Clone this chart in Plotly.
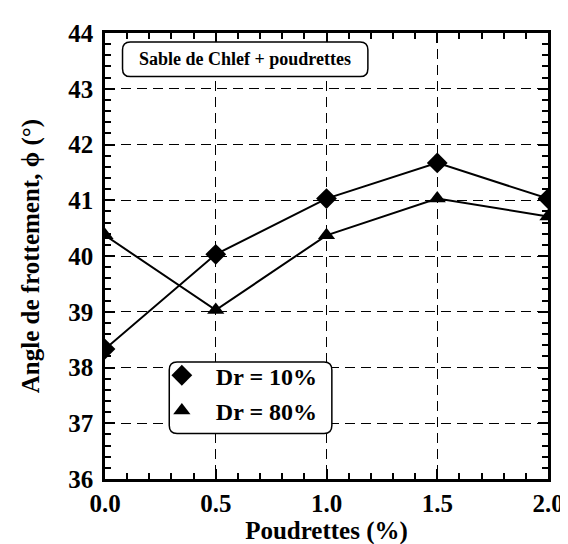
import plotly.graph_objects as go

x_vals = [0.0, 0.5, 1.0, 1.5, 2.0]
dr10 = [38.33, 40.03, 41.03, 41.67, 41.03]
dr80 = [40.37, 39.03, 40.37, 41.03, 40.71]
series_names = ["Dr = 10%", "Dr = 80%"]
x_ticks = [0.0, 0.5, 1.0, 1.5, 2.0]
x_tick_labels = ["0.0", "0.5", "1.0", "1.5", "2.0"]
y_ticks = [36, 37, 38, 39, 40, 41, 42, 43, 44]

FONT = "Liberation Serif, Times New Roman, serif"

fig = go.Figure()
fig.add_trace(go.Scatter(x=x_vals, y=dr10, mode="lines+markers", showlegend=False,
                         line=dict(color="black", width=2),
                         marker=dict(symbol="diamond", size=16, color="black")))
fig.add_trace(go.Scatter(x=x_vals, y=dr80, mode="lines+markers", showlegend=False,
                         line=dict(color="black", width=2),
                         marker=dict(symbol="triangle-up", size=15, color="black")))
# legend entries (markers only)
fig.add_trace(go.Scatter(x=[None], y=[None], mode="markers", name=series_names[0],
                         legendgroup="a",
                         marker=dict(symbol="diamond", size=16, color="black")))
fig.add_trace(go.Scatter(x=[None], y=[None], mode="markers", name=series_names[1],
                         legendgroup="b",
                         marker=dict(symbol="triangle-up", size=15, color="black")))

def rounded_rect(x0, y0, x1, y1, rx, ry):
    return (f"M {x0+rx},{y0} L {x1-rx},{y0} Q {x1},{y0} {x1},{y0+ry} "
            f"L {x1},{y1-ry} Q {x1},{y1} {x1-rx},{y1} L {x0+rx},{y1} "
            f"Q {x0},{y1} {x0},{y1-ry} L {x0},{y0+ry} Q {x0},{y0} {x0+rx},{y0} Z")

W, H = 568, 544
ml, mr, mt, mb = 97, 16, 23, 71
pw, ph = W - ml - mr, H - mt - mb

def px(xp, yp):
    return (xp - ml) / pw, 1 - (yp - mt) / ph

# title box
bx0, by0 = px(115, 32)
bx1, by1 = px(367, 67)
# legend box
lx0, ly0 = px(163, 355)
lx1, ly1 = px(330, 427)
# legend anchor
lgx, lgy = px(141, 346)

rx, ry = 8 / pw, 8 / ph

shapes = [
    dict(type="path", xref="paper", yref="paper",
         path=rounded_rect(bx0, by1, bx1, by0, rx, ry),
         line=dict(color="black", width=1.5), fillcolor="white", layer="above"),
    dict(type="path", xref="paper", yref="paper",
         path=rounded_rect(lx0, ly1, lx1, ly0, rx, ry),
         line=dict(color="black", width=1.5), fillcolor="white", layer="above"),
]

axis_common = dict(
    showline=True, linecolor="black", linewidth=2.5, mirror="allticks",
    ticks="inside", tickcolor="black", tickwidth=2, ticklen=10,
    showgrid=True, gridcolor="black", gridwidth=1, griddash="10px,6px",
    zeroline=False,
    tickfont=dict(family=FONT, size=25, color="black", weight="bold"),
)

fig.update_layout(
    width=W, height=H,
    margin=dict(l=ml, r=mr, t=mt, b=mb),
    plot_bgcolor="white", paper_bgcolor="white",
    font=dict(family=FONT, color="black"),
    shapes=shapes,
    annotations=[dict(x=(bx0 + bx1) / 2, y=(by0 + by1) / 2, xref="paper", yref="paper",
                      xanchor="center", yanchor="middle",
                      text="<b>Sable de Chlef + poudrettes</b>", showarrow=False,
                      font=dict(family=FONT, size=18, color="black"))],
    legend=dict(x=lgx, y=lgy, xanchor="left", yanchor="top",
                bgcolor="rgba(0,0,0,0)", borderwidth=0,
                font=dict(family=FONT, size=24, color="black", weight="bold"),
                itemwidth=58, tracegroupgap=1),
    xaxis=dict(range=[0, 2], tickvals=x_ticks, ticktext=x_tick_labels,
               minor=dict(ticks="inside", dtick=0.1, ticklen=6, tickwidth=1.5,
                          tickcolor="black", showgrid=False),
               title=dict(text="<b>Poudrettes (%)</b>", standoff=6,
                          font=dict(family=FONT, size=25, color="black")),
               **axis_common),
    yaxis=dict(range=[36, 44], tickvals=y_ticks, ticklabelstandoff=4,
               minor=dict(ticks="inside", dtick=0.2, ticklen=6, tickwidth=1.5,
                          tickcolor="black", showgrid=False),
               title=dict(text="<b>Angle de frottement, ϕ (°)</b>", standoff=22,
                          font=dict(family=FONT, size=25, color="black")),
               **axis_common),
)

fig.write_html("out.html")
